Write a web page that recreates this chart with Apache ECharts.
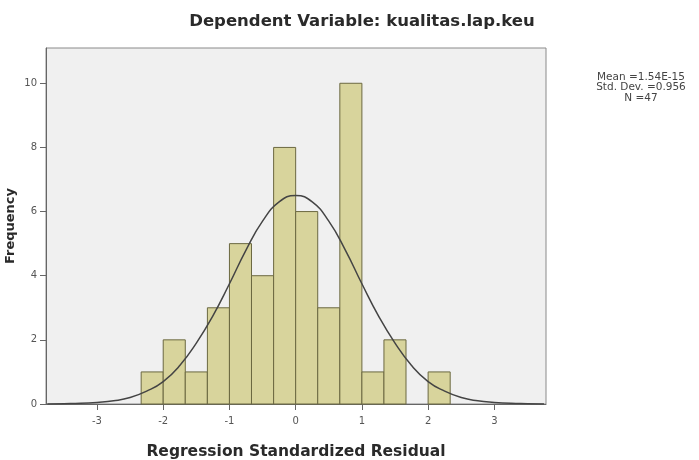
<!DOCTYPE html>
<html>
<head>
<meta charset="utf-8">
<script src="https://cdn.jsdelivr.net/npm/echarts@6/dist/echarts.min.js"></script>
<style>
  html, body { margin: 0; padding: 0; background: #fff; }
  #chart { width: 699px; height: 460px; }
</style>
</head>
<body>
<div id="chart"></div>
<script>
// histogram bins (width 1/3), left edges and counts
const binStarts = [-2.333, -2.0, -1.667, -1.333, -1.0, -0.667, -0.333, 0, 0.333, 0.667, 1.0, 1.333, 1.667, 2.0]
const binWidth = 0.333
const counts = [1, 2, 1, 3, 5, 4, 8, 6, 3, 10, 1, 2, 0, 1]

// normal curve
const curveX = [-3.75, -3.5, -3.25, -3, -2.75, -2.5, -2.25, -2, -1.75, -1.5, -1.25, -1, -0.75, -0.5, -0.25, 0,
  0.25, 0.5, 0.75, 1, 1.25, 1.5, 1.75, 2, 2.25, 2.5, 2.75, 3, 3.25, 3.5, 3.75]
const curveY = [0.0, 0.01, 0.02, 0.05, 0.1, 0.2, 0.4, 0.7, 1.2, 1.9, 2.75, 3.75, 4.8, 5.7, 6.3, 6.5,
  6.3, 5.7, 4.8, 3.75, 2.75, 1.9, 1.2, 0.7, 0.4, 0.2, 0.1, 0.05, 0.02, 0.01, 0.0]

const xTicks = [-3, -2, -1, 0, 1, 2, 3]
const yTicks = [0, 2, 4, 6, 8, 10]
const statsLines = ['Mean =1.54E-15', 'Std. Dev. =0.956', 'N =47']

const chart = echarts.init(document.getElementById('chart'))

chart.setOption({
  animation: false,
  textStyle: { fontFamily: 'DejaVu Sans, sans-serif' },
  title: {
    text: 'Dependent Variable: kualitas.lap.keu',
    left: 357,
    top: 8,
    textAlign: 'center',
    textStyle: { fontSize: 16.5, fontWeight: 'bold', color: '#2a2a2a', fontFamily: 'DejaVu Sans' }
  },
  graphic: [{
    type: 'text',
    x: 641,
    y: 72,
    style: {
      text: statsLines.join('\n'),
      font: '10.5px DejaVu Sans, sans-serif',
      fill: '#444',
      align: 'center',
      lineHeight: 10.5
    }
  }],
  grid: {
    left: 46,
    right: 153,
    top: 48,
    bottom: 56,
    outerBoundsMode: 'none',
    show: true,
    backgroundColor: '#f0f0f0',
    borderColor: '#8a8a8a',
    borderWidth: 1
  },
  xAxis: {
    type: 'value',
    min: -3.77,
    max: 3.78,
    name: 'Regression Standardized Residual',
    nameLocation: 'middle',
    nameGap: 40,
    nameTextStyle: { fontSize: 15.5, fontWeight: 'bold', color: '#2a2a2a' },
    axisLine: { onZero: false, lineStyle: { color: '#666' } },
    axisTick: { show: true, length: 6, customValues: xTicks, lineStyle: { color: '#666' } },
    axisLabel: { customValues: xTicks, fontSize: 10, color: '#555', margin: 12 },
    splitLine: { show: false }
  },
  yAxis: {
    type: 'value',
    min: 0,
    max: 11.1,
    name: 'Frequency',
    nameLocation: 'middle',
    nameGap: 29,
    nameMoveOverlap: false,
    nameTextStyle: { fontSize: 13, fontWeight: 'bold', color: '#2a2a2a' },
    axisLine: { show: true, onZero: false, lineStyle: { color: '#666' } },
    axisTick: { show: true, length: 6, customValues: yTicks, lineStyle: { color: '#666' } },
    axisLabel: { customValues: yTicks, fontSize: 10, color: '#555', margin: 9 },
    splitLine: { show: false }
  },
  series: [
    {
      type: 'custom',
      data: binStarts.map((s, i) => [s, s + binWidth, counts[i]]),
      renderItem: function (params, api) {
        const h = api.value(2)
        if (!h) return
        const p0 = api.coord([api.value(0), 0])
        const p1 = api.coord([api.value(1), h])
        return {
          type: 'rect',
          shape: { x: p0[0], y: p1[1], width: p1[0] - p0[0], height: p0[1] - p1[1] },
          style: { fill: '#d8d49c', stroke: '#6b6840', lineWidth: 1 }
        }
      },
      z: 2
    },
    {
      type: 'line',
      data: curveX.map((x, i) => [x, curveY[i]]),
      smooth: true,
      showSymbol: false,
      lineStyle: { color: '#444', width: 1.5 },
      z: 3
    }
  ]
})
</script>
</body>
</html>
